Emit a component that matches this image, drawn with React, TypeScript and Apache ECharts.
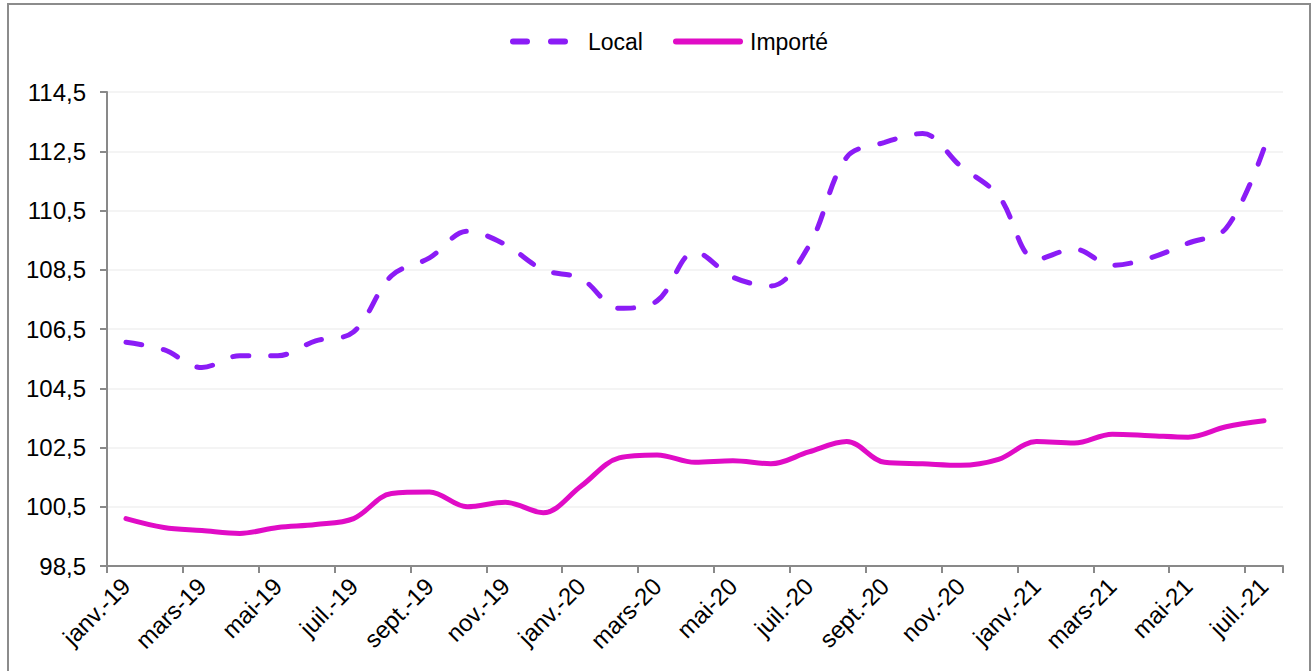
import React, { useEffect, useRef } from "react";
import * as echarts from "echarts";

const categories = [
  "janv.-19", "févr.-19", "mars-19", "avr.-19", "mai-19", "juin-19", "juil.-19", "août-19",
  "sept.-19", "oct.-19", "nov.-19", "déc.-19", "janv.-20", "févr.-20", "mars-20", "avr.-20",
  "mai-20", "juin-20", "juil.-20", "août-20", "sept.-20", "oct.-20", "nov.-20", "déc.-20",
  "janv.-21", "févr.-21", "mars-21", "avr.-21", "mai-21", "juin-21", "juil.-21",
];

const localValues = [
  106.05, 105.8, 105.2, 105.6, 105.6, 106.1, 106.4, 108.3, 108.9, 109.8, 109.35, 108.5,
  108.2, 107.2, 107.45, 109.1, 108.25, 107.95, 109.3, 112.3, 112.8, 113.1, 112.0, 111.0,
  108.85, 109.2, 108.65, 108.9, 109.4, 109.9, 112.6,
];

const importeValues = [
  100.1, 99.8, 99.7, 99.6, 99.8, 99.9, 100.1, 100.95, 101.0, 100.5, 100.65, 100.3,
  101.2, 102.15, 102.25, 102.0, 102.05, 101.95, 102.35, 102.7, 102.0, 101.95, 101.9, 102.1,
  102.7, 102.65, 102.95, 102.9, 102.85, 103.2, 103.4,
];

const seriesNames = ["Local", "Importé"];
const yMin = 98.5;
const yMax = 114.5;
const yStep = 2;

const LOCAL_COLOR = "#8b1cf6";
const IMPORT_COLOR = "#e00cc6";
const FONT = "'Liberation Sans', Arial, sans-serif";

const LOCAL_ICON =
  "path://M3,0 h14 a3,3 0 0 1 0,6 h-14 a3,3 0 0 1 0,-6 z M41,0 h14 a3,3 0 0 1 0,6 h-14 a3,3 0 0 1 0,-6 z";
const IMPORT_ICON = "path://M3,0 h64 a3,3 0 0 1 0,6 h-64 a3,3 0 0 1 0,-6 z";

export default function App() {
  const ref = useRef<HTMLDivElement>(null);

  useEffect(() => {
    if (!ref.current) return;
    const chart = echarts.init(ref.current, undefined, { renderer: "svg" });
    chart.setOption({
      animation: false,
      backgroundColor: "#ffffff",
      textStyle: { fontFamily: FONT },
      graphic: [
        {
          type: "rect",
          shape: { x: 8, y: 4, width: 1302, height: 720 },
          style: { fill: "none", stroke: "#8c8c8c", lineWidth: 2 },
          silent: true,
        },
      ],
      legend: [
        {
          data: [{ name: seriesNames[0], icon: LOCAL_ICON }],
          left: 505,
          top: 25,
          itemWidth: 58,
          itemHeight: 6,
          itemStyle: { color: LOCAL_COLOR, borderWidth: 0 },
          lineStyle: { width: 0 },
          textStyle: { fontFamily: FONT, fontSize: 23, color: "#000", padding: [0, 0, 0, 15] },
        },
        {
          data: [{ name: seriesNames[1], icon: IMPORT_ICON }],
          left: 668,
          top: 25,
          itemWidth: 70,
          itemHeight: 6,
          itemStyle: { color: IMPORT_COLOR, borderWidth: 0 },
          lineStyle: { width: 0 },
          textStyle: { fontFamily: FONT, fontSize: 23, color: "#000", padding: [0, 0, 0, 2] },
        },
      ],
      grid: { left: 107, right: 30, top: 92, bottom: 105, containLabel: false },
      xAxis: {
        type: "category",
        data: categories,
        boundaryGap: true,
        axisLine: { lineStyle: { color: "#898989", width: 2 } },
        axisTick: { show: true, interval: 1, length: 7, lineStyle: { color: "#898989", width: 2 } },
        axisLabel: {
          interval: 1,
          rotate: 45,
          margin: 16,
          fontSize: 24,
          fontFamily: FONT,
          color: "#000",
        },
        splitLine: { show: false },
      },
      yAxis: {
        type: "value",
        min: yMin,
        max: yMax,
        interval: yStep,
        axisLine: { show: true, lineStyle: { color: "#898989", width: 2 } },
        axisTick: { show: true, length: 7, lineStyle: { color: "#898989", width: 2 } },
        axisLabel: {
          margin: 21,
          fontSize: 24,
          fontFamily: FONT,
          color: "#000",
          formatter: (v: number) => v.toFixed(1).replace(".", ","),
        },
        splitLine: { show: true, lineStyle: { color: "#f0f0f0", width: 1.5 } },
      },
      series: [
        {
          name: seriesNames[0],
          type: "line",
          data: localValues,
          smooth: 0.35,
          showSymbol: false,
          symbol: "none",
          itemStyle: { color: LOCAL_COLOR },
          lineStyle: { color: LOCAL_COLOR, width: 5, type: [16, 22], cap: "round" },
        },
        {
          name: seriesNames[1],
          type: "line",
          data: importeValues,
          smooth: 0.35,
          showSymbol: false,
          symbol: "none",
          itemStyle: { color: IMPORT_COLOR },
          lineStyle: { color: IMPORT_COLOR, width: 5, cap: "round" },
        },
      ],
    });
    return () => chart.dispose();
  }, []);

  return (
    <div
      ref={ref}
      style={{ position: "fixed", left: 0, top: 0, width: 1313, height: 671, background: "#fff" }}
    />
  );
}
